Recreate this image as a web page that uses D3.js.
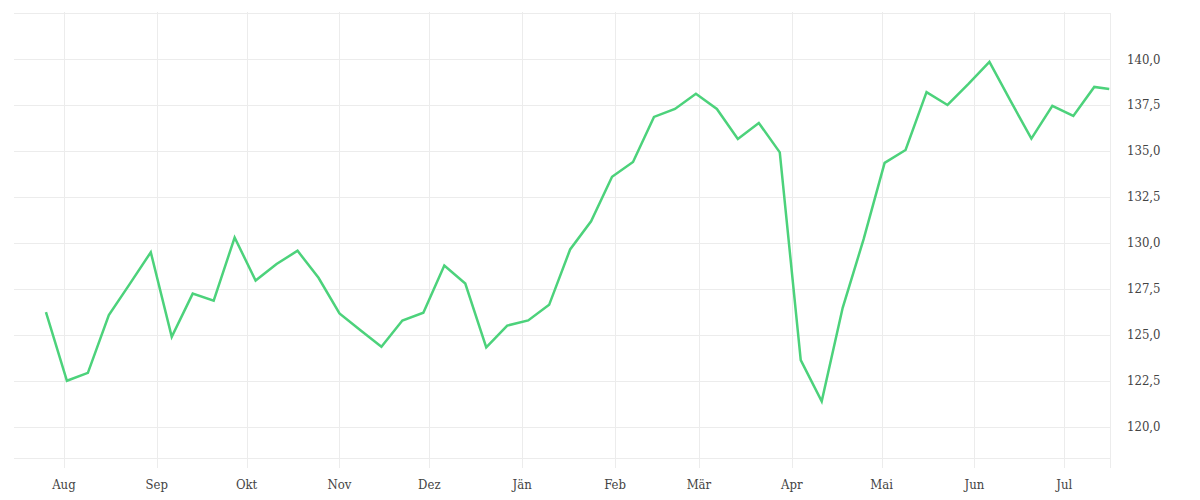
<!DOCTYPE html>
<html>
<head>
<meta charset="utf-8">
<script src="https://cdn.jsdelivr.net/npm/d3@7"></script>
<style>
  html, body { margin: 0; padding: 0; background: #fff; }
  .chart text { font-family: "DejaVu Serif Condensed", "DejaVu Serif", serif; font-size: 13px; fill: #444; }
</style>
</head>
<body>
<div class="chart" id="chart"></div>
<script>
  'use strict';

  // weekly closes
  const dates = [
    '2024-07-26', '2024-08-02', '2024-08-09', '2024-08-16', '2024-08-23', '2024-08-30',
    '2024-09-06', '2024-09-13', '2024-09-20', '2024-09-27', '2024-10-04', '2024-10-11',
    '2024-10-18', '2024-10-25', '2024-11-01', '2024-11-08', '2024-11-15', '2024-11-22',
    '2024-11-29', '2024-12-06', '2024-12-13', '2024-12-20', '2024-12-27', '2025-01-03',
    '2025-01-10', '2025-01-17', '2025-01-24', '2025-01-31', '2025-02-07', '2025-02-14',
    '2025-02-21', '2025-02-28', '2025-03-07', '2025-03-14', '2025-03-21', '2025-03-28',
    '2025-04-04', '2025-04-11', '2025-04-18', '2025-04-25', '2025-05-02', '2025-05-09',
    '2025-05-16', '2025-05-23', '2025-05-30', '2025-06-06', '2025-06-13', '2025-06-20',
    '2025-06-27', '2025-07-04', '2025-07-11', '2025-07-16'
  ];
  const values = [
    126.23, 122.50, 122.93, 126.07, 127.77, 129.49,
    124.89, 127.24, 126.86, 130.29, 127.95, 128.85,
    129.57, 128.10, 126.16, 125.25, 124.35, 125.78,
    126.20, 128.77, 127.79, 124.31, 125.50, 125.78,
    126.63, 129.64, 131.17, 133.59, 134.40, 136.85,
    137.28, 138.11, 137.28, 135.65, 136.52, 134.92,
    123.62, 121.38, 126.47, 130.20, 134.35, 135.05,
    138.20, 137.50, 138.64, 139.84, 137.73, 135.67,
    137.45, 136.90, 138.48, 138.37
  ];
  const monthLabels = ['Jän', 'Feb', 'Mär', 'Apr', 'Mai', 'Jun', 'Jul', 'Aug', 'Sep', 'Okt', 'Nov', 'Dez'];
  const yTicks = [120, 122.5, 125, 127.5, 130, 132.5, 135, 137.5, 140, 142.5];
  const yDomain = [118.3, 142.5];
  const xDomain = ['2024-07-15T08:00', '2025-07-16T06:00'];

  const parse = d3.timeParse('%Y-%m-%d');
  const parseTime = d3.timeParse('%Y-%m-%dT%H:%M');
  const data = dates.map((d, i) => ({ date: parse(d), value: values[i] }));

  const w = 1200;
  const h = 500;
  const plotLeft = 14;
  const plotRight = 1110;
  const plotTop = 13;
  const plotBottom = 458;

  const de = d3.formatLocale({ decimal: ',', thousands: '.', grouping: [3], currency: ['', ' €'] });
  const fmt = de.format('.1f');

  const x = d3.scaleTime()
    .domain(xDomain.map(parseTime))
    .range([plotLeft, plotRight]);
  const y = d3.scaleLinear().domain(yDomain).range([plotBottom, plotTop]);

  const svg = d3.select('#chart').append('svg')
    .attr('width', w)
    .attr('height', h);

  const grid = svg.append('g').attr('stroke', '#ececec').attr('stroke-width', 1);

  // horizontal grid
  grid.selectAll('line.h')
    .data(yTicks)
    .enter()
    .append('line')
    .attr('x1', plotLeft)
    .attr('x2', plotRight)
    .attr('y1', d => Math.round(y(d)) + 0.5)
    .attr('y2', d => Math.round(y(d)) + 0.5);

  // bottom edge
  grid.append('line')
    .attr('x1', plotLeft).attr('x2', plotRight)
    .attr('y1', plotBottom + 0.5).attr('y2', plotBottom + 0.5);

  // month lines, running a little past the bottom like ticks
  const months = x.ticks(d3.timeMonth.every(1));
  grid.selectAll('line.v')
    .data(months)
    .enter()
    .append('line')
    .attr('x1', d => Math.round(x(d)) + 0.5)
    .attr('x2', d => Math.round(x(d)) + 0.5)
    .attr('y1', plotTop - 1)
    .attr('y2', plotBottom + 10);

  // right edge
  grid.append('line')
    .attr('x1', plotRight + 0.5).attr('x2', plotRight + 0.5)
    .attr('y1', plotTop).attr('y2', plotBottom + 10);

  svg.append('g').selectAll('text')
    .data(months)
    .enter()
    .append('text')
    .attr('x', d => x(d))
    .attr('y', 489)
    .attr('text-anchor', 'middle')
    .text(d => monthLabels[d.getMonth()]);

  svg.append('g').selectAll('text')
    .data(yTicks.filter(d => d <= 140))
    .enter()
    .append('text')
    .attr('x', 1127)
    .attr('y', d => y(d))
    .attr('dy', '0.35em')
    .text(d => fmt(d));

  const line = d3.line()
    .x(d => x(d.date))
    .y(d => y(d.value));

  svg.append('path')
    .datum(data)
    .attr('d', line)
    .attr('fill', 'none')
    .attr('stroke', '#4cd27b')
    .attr('stroke-width', 2.5)
    .attr('stroke-linejoin', 'miter');
</script>
</body>
</html>
